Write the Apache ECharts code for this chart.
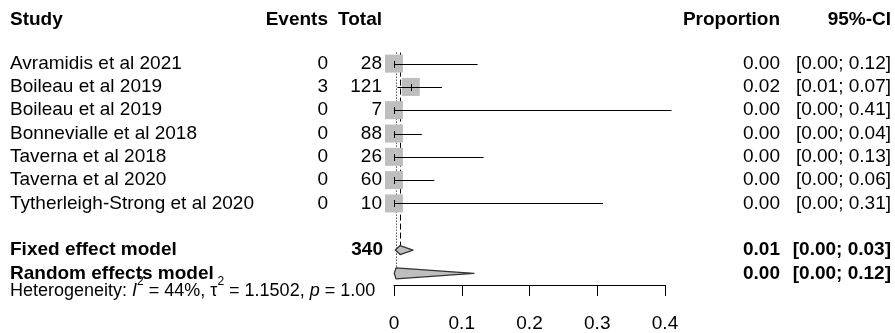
<!DOCTYPE html>
<html>
<head>
<meta charset="utf-8">
<script src="https://cdn.jsdelivr.net/npm/echarts@6/dist/echarts.min.js"></script>
<style>
  html, body { margin: 0; padding: 0; background: #fff; }
  #chart { width: 895px; height: 333px; }
</style>
</head>
<body>
<div id="chart"></div>
<script>
// Single-proportion meta-analysis: study rows, pooled estimates, axis ticks
const studies = ['Avramidis et al 2021', 'Boileau et al 2019', 'Boileau et al 2019',
  'Bonnevialle et al 2018', 'Taverna et al 2018', 'Taverna et al 2020', 'Tytherleigh-Strong et al 2020'];
const events = [0, 3, 0, 0, 0, 0, 0];
const totals = [28, 121, 7, 88, 26, 60, 10];
const proportion = [0, 0.0248, 0, 0, 0, 0, 0];
const ciLower = [0, 0.0051, 0, 0, 0, 0, 0];
const ciUpper = [0.1234, 0.0707, 0.4096, 0.0411, 0.1323, 0.0596, 0.3085];

const pooledNames = ['Fixed effect model', 'Random effects model'];
const pooledTotal = 340;
const pooledEst = [0.0090, 0.0030];
const pooledLower = [0.0020, 0.0004];
const pooledUpper = [0.0280, 0.1180];

const hetI2 = '44%';
const hetTau2 = '1.1502';
const hetP = '1.00';

const xTicks = [0, 0.1, 0.2, 0.3, 0.4];
const headers = ['Study', 'Events', 'Total', 'Proportion', '95%-CI'];

// row layout (y axis is a row index, top to bottom)
const headerRow = -1.9;
const pooledRows = [8, 9];
const hetRow = 9.76;

const FONT = '"Liberation Sans", Arial, Helvetica, sans-serif';
const COL = { study: 10, events: 328, total: 382, prop: 780, ci: 891 };
const fmt = v => v.toFixed(2);

function label(x, y, text, align, bold, size) {
  return {
    type: 'text', x: x, y: y, silent: true,
    style: {
      text: text, align: align, verticalAlign: 'middle', fill: '#000',
      font: (bold ? 'bold ' : '') + (size || 19) + 'px ' + FONT
    }
  };
}

const chart = echarts.init(document.getElementById('chart'), null, { renderer: 'canvas' });

const option = {
  animation: false,
  backgroundColor: '#fff',
  grid: { left: 394, width: 271, top: 17, height: 272, containLabel: false },
  xAxis: {
    type: 'value', min: xTicks[0], max: xTicks[xTicks.length - 1], interval: 0.1,
    axisLine: { show: true, onZero: false, lineStyle: { color: '#000', width: 1 } },
    axisTick: { show: true, length: 11, lineStyle: { color: '#000', width: 1 } },
    axisLabel: { color: '#000', fontSize: 19, fontFamily: FONT, margin: 29 },
    splitLine: { show: false }
  },
  yAxis: { type: 'value', inverse: true, min: -2, max: 9.5, show: false },
  series: [
    // header row
    {
      type: 'custom', clip: false, silent: true,
      data: [[0, headerRow]],
      renderItem: function (params, api) {
        const y = api.coord([0, api.value(1)])[1];
        return {
          type: 'group', children: [
            label(COL.study, y, headers[0], 'left', true),
            label(COL.events, y, headers[1], 'right', true),
            label(COL.total, y, headers[2], 'right', true),
            label(COL.prop, y, headers[3], 'right', true),
            label(COL.ci, y, headers[4], 'right', true)
          ]
        };
      }
    },
    // reference lines for the pooled estimates (fixed: dashed, random: dotted)
    {
      type: 'custom', clip: false, silent: true,
      data: pooledEst.map((v, k) => [v, pooledRows[k], k]),
      renderItem: function (params, api) {
        const k = api.value(2);
        const top = api.coord([api.value(0), 0]);
        const bot = api.coord([api.value(0), api.value(1)]);
        const h = k === 0 ? 4.5 : 5.5;
        const x = Math.round(top[0]) + 0.5;
        return {
          type: 'line',
          shape: { x1: x, y1: top[1] - 11, x2: x, y2: bot[1] - h },
          style: { stroke: '#000', lineWidth: 1, lineDash: k === 0 ? [6, 3] : [1, 2] }
        };
      }
    },
    // study squares and confidence intervals
    {
      type: 'custom', clip: false, silent: true,
      data: studies.map((s, i) => [proportion[i], i, ciLower[i], ciUpper[i]]),
      encode: { x: [0, 2, 3], y: 1 },
      renderItem: function (params, api) {
        const row = api.value(1);
        const c = api.coord([api.value(0), row]);
        const lo = api.coord([api.value(2), row]);
        const hi = api.coord([api.value(3), row]);
        const y = Math.round(c[1]) + 0.5;
        return {
          type: 'group', children: [
            { type: 'rect', shape: { x: c[0] - 9, y: c[1] - 9, width: 18, height: 18 }, style: { fill: '#bebebe' } },
            { type: 'line', shape: { x1: lo[0], y1: y, x2: hi[0], y2: y }, style: { stroke: '#000', lineWidth: 1 } },
            { type: 'line', shape: { x1: Math.round(c[0]) + 0.5, y1: y - 3.5, x2: Math.round(c[0]) + 0.5, y2: y + 3.5 }, style: { stroke: '#000', lineWidth: 1 } }
          ]
        };
      }
    },
    // pooled diamonds
    {
      type: 'custom', clip: false, silent: true,
      data: pooledEst.map((v, k) => [v, pooledRows[k], pooledLower[k], pooledUpper[k], k]),
      encode: { x: [0, 2, 3], y: 1 },
      renderItem: function (params, api) {
        const row = api.value(1);
        const h = api.value(4) === 0 ? 4.5 : 5.5;
        const c = api.coord([api.value(0), row]);
        const lo = api.coord([api.value(2), row]);
        const hi = api.coord([api.value(3), row]);
        return {
          type: 'polygon',
          shape: { points: [[lo[0], c[1]], [c[0], c[1] - h], [hi[0], c[1]], [c[0], c[1] + h]] },
          style: { fill: '#bebebe', stroke: '#333', lineWidth: 1.3, lineJoin: 'round' }
        };
      }
    },
    // study table text
    {
      type: 'custom', clip: false, silent: true,
      data: studies.map((s, i) => [0, i]),
      renderItem: function (params, api) {
        const i = params.dataIndex;
        const y = api.coord([0, api.value(1)])[1];
        return {
          type: 'group', children: [
            label(COL.study, y, studies[i], 'left', false),
            label(COL.events, y, String(events[i]), 'right', false),
            label(COL.total, y, String(totals[i]), 'right', false),
            label(COL.prop, y, fmt(proportion[i]), 'right', false),
            label(COL.ci, y, '[' + fmt(ciLower[i]) + '; ' + fmt(ciUpper[i]) + ']', 'right', false)
          ]
        };
      }
    },
    // pooled rows text
    {
      type: 'custom', clip: false, silent: true,
      data: pooledRows.map(r => [0, r]),
      renderItem: function (params, api) {
        const k = params.dataIndex;
        const y = api.coord([0, api.value(1)])[1];
        const kids = [
          label(COL.study, y, pooledNames[k], 'left', true),
          label(COL.prop, y, fmt(pooledEst[k]), 'right', true),
          label(COL.ci, y, '[' + fmt(pooledLower[k]) + '; ' + fmt(pooledUpper[k]) + ']', 'right', true)
        ];
        if (k === 0) kids.push(label(COL.total + 1, y, String(pooledTotal), 'right', true));
        return { type: 'group', children: kids };
      }
    },
    // heterogeneity statistics
    {
      type: 'custom', clip: false, silent: true,
      data: [[0, hetRow]],
      renderItem: function (params, api) {
        const y = api.coord([0, api.value(1)])[1];
        return {
          type: 'text', x: COL.study, y: y, silent: true,
          style: {
            text: 'Heterogeneity: {it|I}{sup|2} = ' + hetI2 + ', \u03c4{sup|2} = ' + hetTau2 + ', {it|p} = ' + hetP,
            align: 'left', verticalAlign: 'middle', fill: '#000',
            font: '18px ' + FONT, lineHeight: 31,
            rich: {
              it: { fontStyle: 'italic', fontSize: 18, fontFamily: FONT, lineHeight: 31, fill: '#000' },
              sup: { fontSize: 12, fontFamily: FONT, lineHeight: 12, verticalAlign: 'top', fill: '#000' }
            }
          }
        };
      }
    }
  ]
};

chart.setOption(option);
</script>
</body>
</html>
